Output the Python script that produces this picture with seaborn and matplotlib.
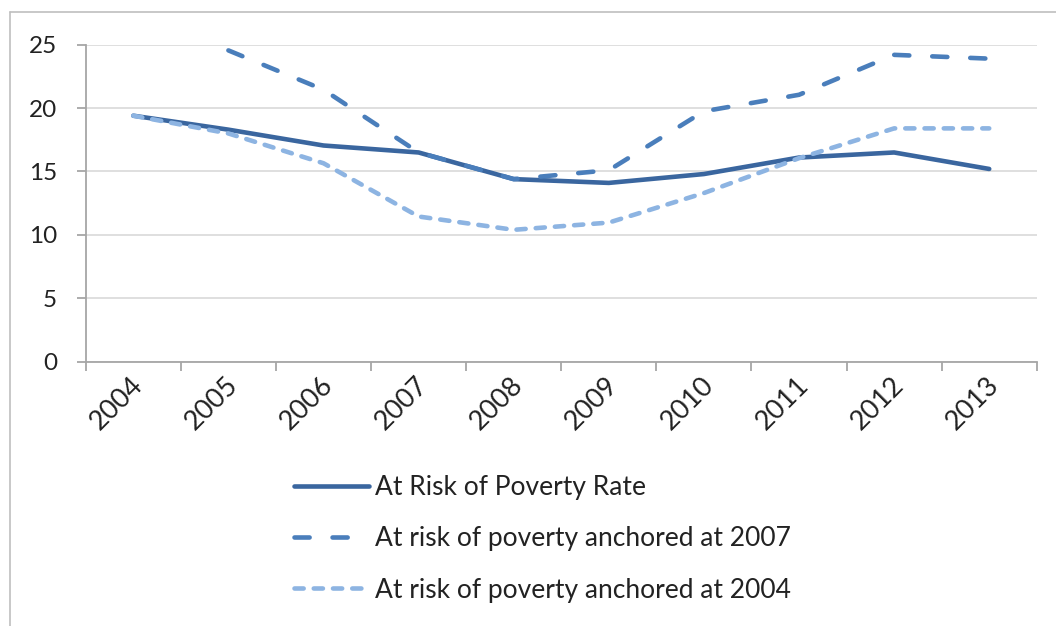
import pandas as pd
import numpy as np
import matplotlib.pyplot as plt
import matplotlib.transforms as mtransforms
import seaborn as sns

# Datos
years = [2004, 2005, 2006, 2007, 2008, 2009, 2010, 2011, 2012, 2013]
rate = [19.4, 18.3, 17.05, 16.5, 14.4, 14.1, 14.8, 16.1, 16.5, 15.2]
anchored_2007 = [np.nan, 24.55, 21.45, 16.5, 14.4, 15.1, 19.75, 21.05, 24.2, 23.9]
anchored_2004 = [19.4, 18.0, 15.65, 11.45, 10.4, 10.97, 13.3, 16.05, 18.4, 18.4]

series_names = ['At Risk of Poverty Rate',
                'At risk of poverty anchored at 2007',
                'At risk of poverty anchored at 2004']
colors = ['#3A669F', '#4A7EBB', '#8DB4E2']

df = pd.DataFrame({
    'year': years * 3,
    'value': rate + anchored_2007 + anchored_2004,
    'serie': [series_names[0]] * 10 + [series_names[1]] * 10 + [series_names[2]] * 10,
})

sns.set_style('white')
plt.rcParams['font.family'] = ['Lato', 'DejaVu Sans']

fig = plt.figure(figsize=(10.56, 6.26), dpi=100)
ax = fig.add_axes([0.0812, 0.4222, 0.9006, 0.5064])

sns.lineplot(data=df, x='year', y='value', hue='serie', style='serie',
             palette=dict(zip(series_names, colors)),
             dashes={series_names[0]: '',
                     series_names[1]: (3.3, 5.0),
                     series_names[2]: (2.0, 2.2)},
             linewidth=3.3, ax=ax)

for line in ax.get_lines():
    line.set_dash_capstyle('round')
    line.set_solid_capstyle('round')

handles, labels = ax.get_legend_handles_labels()
ax.get_legend().remove()

# Ejes
ax.set_xlim(2003.5, 2013.5)
ax.set_ylim(0, 25)
ax.set_yticks([0, 5, 10, 15, 20, 25])
ax.set_xticks(years)
ax.set_xticklabels([str(y) for y in years])
ax.set_xticks(np.arange(2003.5, 2014, 1.0), minor=True)
ax.set_xlabel('')
ax.set_ylabel('')

ax.grid(axis='y', color='#D9D9D9', linewidth=1.2)
ax.set_axisbelow(True)
for side in ['top', 'right']:
    ax.spines[side].set_visible(False)
for side in ['left', 'bottom']:
    ax.spines[side].set_color('#A6A6A6')
    ax.spines[side].set_linewidth(1.3)

ax.tick_params(axis='y', which='major', length=6.5, width=1.3, color='#A6A6A6',
               direction='out', left=True, pad=14, labelsize=17.5, labelcolor='#222222')
ax.tick_params(axis='x', which='major', length=0, pad=14, labelsize=19.5,
               labelcolor='#222222')
ax.tick_params(axis='x', which='minor', length=6.5, width=1.3, color='#A6A6A6',
               direction='out', bottom=True)

offset = mtransforms.ScaledTranslation(4 / 72, 0, fig.dpi_scale_trans)
for lbl in ax.get_xticklabels():
    lbl.set_rotation(45)
    lbl.set_rotation_mode('anchor')
    lbl.set_ha('right')
    lbl.set_va('center')
    lbl.set_transform(lbl.get_transform() + offset)

# Leyenda
leg_handles = []
for h, c in zip(handles, colors):
    h.set_color(c)
    h.set_linewidth(3.3)
    h.set_dash_capstyle('round')
    h.set_solid_capstyle('round')
    leg_handles.append(h)
fig.legend(leg_handles, labels, loc='center left', bbox_to_anchor=(0.266, 0.139),
           frameon=False, fontsize=19, handlelength=2.85, handletextpad=0.2,
           labelspacing=0.99, borderpad=0, labelcolor='#222222')

# Borde del área del gráfico
fig.add_artist(plt.Line2D([10.3 / 1056, 1.0], [1 - 12.3 / 626, 1 - 12.3 / 626],
                          color='#BFBFBF', linewidth=1.2, transform=fig.transFigure))
fig.add_artist(plt.Line2D([10.3 / 1056, 10.3 / 1056], [0.0, 1 - 12.3 / 626],
                          color='#BFBFBF', linewidth=1.2, transform=fig.transFigure))

fig.savefig('out.png', dpi=100)
